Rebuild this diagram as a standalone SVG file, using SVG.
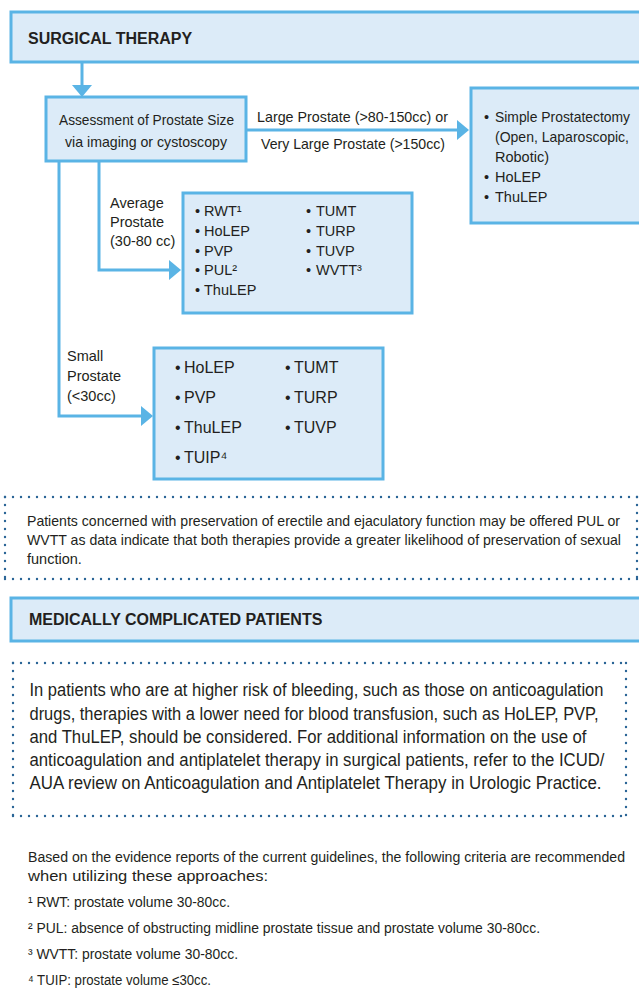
<svg xmlns="http://www.w3.org/2000/svg" width="639" height="991" viewBox="0 0 639 991">
<defs>
<style>
.box{fill:#dcebf8;stroke:#5ab4e5;stroke-width:3}
.conn{fill:none;stroke:#5ab4e5;stroke-width:3}
.dots{fill:none;stroke:#2a6596;stroke-width:2.4;stroke-linecap:round;stroke-dasharray:0 8}
text{font-family:"Liberation Sans",Arial,sans-serif;fill:#231f20}
.title{font-size:16px;font-weight:bold}
.t{font-size:14.5px}
.ts{font-size:16px}
.n1{font-size:14.5px}
.n2{font-size:17.5px}
.f{font-size:14px}
</style>
<marker id="ah" markerUnits="userSpaceOnUse" markerWidth="12" markerHeight="20" refX="0" refY="10" orient="auto" viewBox="0 0 12 20">
<path d="M0,0 L12,10 L0,20 Z" fill="#5ab4e5"/>
</marker>
</defs>
<rect width="639" height="991" fill="#ffffff"/>

<g id="connectors">
<path class="conn" d="M82,62 V85" marker-end="url(#ah)"/>
<path class="conn" d="M246,130 H457" marker-end="url(#ah)"/>
<path class="conn" d="M99,161 V270 H169" marker-end="url(#ah)"/>
<path class="conn" d="M59,161 V416 H141" marker-end="url(#ah)"/>
</g>

<g id="surgical-therapy">
<rect class="box" x="11" y="12" width="640" height="50"/>
<text class="title" x="28" y="44">SURGICAL THERAPY</text>
</g>

<g id="assessment">
<rect class="box" x="46" y="97" width="200" height="64"/>
<text class="t" x="59" y="125" textLength="175" lengthAdjust="spacingAndGlyphs">Assessment of Prostate Size</text>
<text class="t" x="65" y="147" textLength="162" lengthAdjust="spacingAndGlyphs">via imaging or cystoscopy</text>
</g>

<g id="label-large">
<text class="t" x="257" y="122" textLength="191" lengthAdjust="spacingAndGlyphs">Large Prostate (&gt;80-150cc) or</text>
<text class="t" x="261" y="149" textLength="184" lengthAdjust="spacingAndGlyphs">Very Large Prostate (&gt;150cc)</text>
</g>

<g id="large-options">
<rect class="box" x="471" y="88" width="180" height="135"/>
<text class="t"><tspan x="484" y="122">•</tspan></text>
<text class="t" x="495" y="122" textLength="135" lengthAdjust="spacingAndGlyphs">Simple Prostatectomy</text>
<text class="t" x="495" y="142" textLength="134" lengthAdjust="spacingAndGlyphs">(Open, Laparoscopic,</text>
<text class="t" x="495" y="162">Robotic)</text>
<text class="t"><tspan x="484" y="182">•</tspan><tspan x="495" y="182">HoLEP</tspan></text>
<text class="t"><tspan x="484" y="202">•</tspan><tspan x="495" y="202">ThuLEP</tspan></text>
</g>

<g id="label-average">
<text class="t" x="110" y="208">Average</text>
<text class="t" x="110" y="227">Prostate</text>
<text class="t" x="110" y="246">(30-80 cc)</text>
</g>

<g id="average-options">
<rect class="box" x="183" y="193" width="229" height="120"/>
<text class="t"><tspan x="195" y="216">•</tspan><tspan x="204" y="216">RWT¹</tspan></text>
<text class="t"><tspan x="195" y="236">•</tspan><tspan x="204" y="236">HoLEP</tspan></text>
<text class="t"><tspan x="195" y="256">•</tspan><tspan x="204" y="256">PVP</tspan></text>
<text class="t"><tspan x="195" y="275">•</tspan><tspan x="204" y="275">PUL²</tspan></text>
<text class="t"><tspan x="195" y="295">•</tspan><tspan x="204" y="295">ThuLEP</tspan></text>
<text class="t"><tspan x="306" y="216">•</tspan><tspan x="316" y="216">TUMT</tspan></text>
<text class="t"><tspan x="306" y="236">•</tspan><tspan x="316" y="236">TURP</tspan></text>
<text class="t"><tspan x="306" y="256">•</tspan><tspan x="316" y="256">TUVP</tspan></text>
<text class="t"><tspan x="306" y="275">•</tspan><tspan x="316" y="275">WVTT³</tspan></text>
</g>

<g id="label-small">
<text class="t" x="67" y="361">Small</text>
<text class="t" x="67" y="381">Prostate</text>
<text class="t" x="67" y="401">(&lt;30cc)</text>
</g>

<g id="small-options">
<rect class="box" x="154" y="348" width="229" height="131"/>
<text class="ts"><tspan x="175" y="373">•</tspan><tspan x="184" y="373">HoLEP</tspan></text>
<text class="ts"><tspan x="175" y="403">•</tspan><tspan x="184" y="403">PVP</tspan></text>
<text class="ts"><tspan x="175" y="433">•</tspan><tspan x="184" y="433">ThuLEP</tspan></text>
<text class="ts"><tspan x="175" y="463">•</tspan><tspan x="184" y="463">TUIP⁴</tspan></text>
<text class="ts"><tspan x="285" y="373">•</tspan><tspan x="294" y="373">TUMT</tspan></text>
<text class="ts"><tspan x="285" y="403">•</tspan><tspan x="294" y="403">TURP</tspan></text>
<text class="ts"><tspan x="285" y="433">•</tspan><tspan x="294" y="433">TUVP</tspan></text>
</g>

<g id="note-sexual-function">
<line class="dots" x1="5" y1="497" x2="639" y2="497"/>
<line class="dots" x1="5" y1="579" x2="639" y2="579"/>
<line class="dots" x1="5" y1="497" x2="5" y2="579"/>
<line class="dots" x1="637" y1="497" x2="637" y2="579"/>
<text class="n1" x="27" y="526" textLength="593" lengthAdjust="spacingAndGlyphs">Patients concerned with preservation of erectile and ejaculatory function may be offered PUL or</text>
<text class="n1" x="27" y="545" textLength="594" lengthAdjust="spacingAndGlyphs">WVTT as data indicate that both therapies provide a greater likelihood of preservation of sexual</text>
<text class="n1" x="27" y="564">function.</text>
</g>

<g id="medically-complicated">
<rect class="box" x="11" y="598" width="640" height="43"/>
<text class="title" x="29" y="625">MEDICALLY COMPLICATED PATIENTS</text>
</g>

<g id="note-bleeding">
<line class="dots" x1="13" y1="663" x2="626" y2="663"/>
<line class="dots" x1="13" y1="816" x2="626" y2="816"/>
<line class="dots" x1="13" y1="663" x2="13" y2="816"/>
<line class="dots" x1="626" y1="663" x2="626" y2="816"/>
<text class="n2" x="29.5" y="696" textLength="574" lengthAdjust="spacingAndGlyphs">In patients who are at higher risk of bleeding, such as those on anticoagulation</text>
<text class="n2" x="29.5" y="720" textLength="569" lengthAdjust="spacingAndGlyphs">drugs, therapies with a lower need for blood transfusion, such as HoLEP, PVP,</text>
<text class="n2" x="29.5" y="743" textLength="557" lengthAdjust="spacingAndGlyphs">and ThuLEP, should be considered. For additional information on the use of</text>
<text class="n2" x="29.5" y="766" textLength="575" lengthAdjust="spacingAndGlyphs">anticoagulation and antiplatelet therapy in surgical patients, refer to the ICUD/</text>
<text class="n2" x="29.5" y="789" textLength="572" lengthAdjust="spacingAndGlyphs">AUA review on Anticoagulation and Antiplatelet Therapy in Urologic Practice.</text>
</g>

<g id="footnotes">
<text class="f" x="28" y="862" textLength="597" lengthAdjust="spacingAndGlyphs">Based on the evidence reports of the current guidelines, the following criteria are recommended</text>
<text class="f" x="28" y="881" style="font-size:15px" textLength="240" lengthAdjust="spacingAndGlyphs">when utilizing these approaches:</text>
<text class="f" x="28" y="907" textLength="202" lengthAdjust="spacingAndGlyphs">¹ RWT:  prostate volume 30-80cc.</text>
<text class="f" x="28" y="933" textLength="512" lengthAdjust="spacingAndGlyphs">² PUL: absence of obstructing midline prostate tissue and prostate volume 30-80cc.</text>
<text class="f" x="28" y="959" textLength="210" lengthAdjust="spacingAndGlyphs">³ WVTT:  prostate volume 30-80cc.</text>
<text class="f" x="28" y="985" textLength="183" lengthAdjust="spacingAndGlyphs">⁴ TUIP: prostate volume ≤30cc.</text>
</g>
</svg>
